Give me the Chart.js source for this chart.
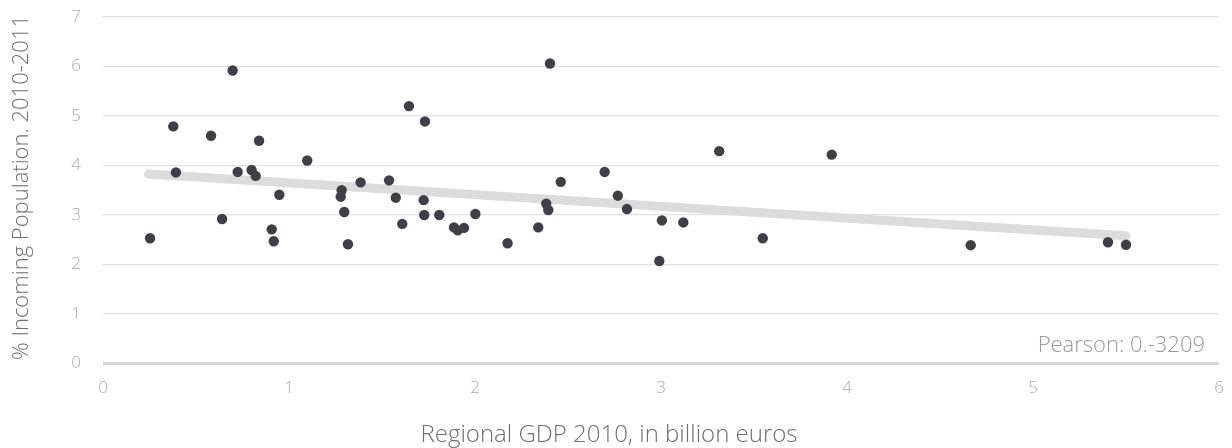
<!DOCTYPE html>
<html>
<head>
<meta charset="utf-8">
<script src="https://cdn.jsdelivr.net/npm/chart.js@4/dist/chart.umd.min.js"></script>
<style>
  html, body { margin: 0; padding: 0; background: #ffffff; }
  #wrap { width: 1232px; height: 448px; position: relative; }
</style>
</head>
<body>
<div id="wrap"><canvas id="c" width="1232" height="448"></canvas></div>
<script>
// Regional GDP 2010 (billion euros)
const gdp = [0.253, 0.378, 0.392, 0.581, 0.640, 0.697, 0.724, 0.799, 0.821, 0.839,
             0.907, 0.918, 0.948, 1.098, 1.283, 1.278, 1.297, 1.317, 1.385, 1.538,
             1.574, 1.609, 1.645, 1.724, 1.727, 1.731, 1.808, 1.887, 1.907, 1.941,
             2.002, 2.175, 2.340, 2.383, 2.394, 2.403, 2.461, 2.697, 2.768, 2.817,
             2.991, 3.005, 3.120, 3.313, 3.547, 3.918, 4.665, 5.403, 5.500];
// % incoming population 2010-2011
const incoming = [2.53, 4.79, 3.86, 4.60, 2.92, 5.92, 3.87, 3.91, 3.79, 4.50,
                  2.71, 2.47, 3.41, 4.10, 3.50, 3.37, 3.06, 2.41, 3.66, 3.70,
                  3.35, 2.82, 5.20, 3.30, 3.00, 4.89, 3.00, 2.75, 2.69, 2.74,
                  3.02, 2.43, 2.75, 3.23, 3.10, 6.06, 3.67, 3.87, 3.39, 3.12,
                  2.07, 2.89, 2.85, 4.29, 2.53, 4.22, 2.39, 2.45, 2.40];
// trend line end points
const trendX = [0.245, 5.50];
const trendY = [3.83, 2.58];
const xTicks = [0, 1, 2, 3, 4, 5, 6];
const yTicks = [0, 1, 2, 3, 4, 5, 6, 7];
const xTitle = 'Regional GDP 2010, in billion euros';
const yTitle = '% Incoming Population. 2010-2011';
const pearsonLabel = 'Pearson: 0.-3209';

const FONT = '"Open Sans", Lato, sans-serif';

const textPlugin = {
  id: 'texts',
  afterDatasetsDraw(chart) {
    const { ctx, chartArea } = chart;
    ctx.save();
    // Pearson annotation
    ctx.font = '300 22px ' + FONT;
    ctx.fillStyle = '#9a9a9a';
    ctx.textAlign = 'right';
    ctx.textBaseline = 'alphabetic';
    ctx.fillText(pearsonLabel, chartArea.right - 14, chartArea.bottom - 12);
    // x axis title
    ctx.font = '300 24px ' + FONT;
    ctx.fillStyle = '#6f6f6f';
    ctx.textAlign = 'center';
    ctx.fillText(xTitle, 609, 442);
    // y axis title
    ctx.translate(28, 15);
    ctx.rotate(-Math.PI / 2);
    ctx.textAlign = 'right';
    ctx.font = '300 22px ' + FONT;
    ctx.fillText(yTitle, 0, 0);
    ctx.restore();
  }
};

new Chart(document.getElementById('c'), {
  type: 'scatter',
  data: {
    datasets: [
      {
        label: 'points',
        data: gdp.map((x, i) => ({ x: x, y: incoming[i] })),
        backgroundColor: '#3e4048',
        borderColor: '#3e4048',
        borderWidth: 0,
        pointRadius: 5.2,
        pointHoverRadius: 5.2,
        order: 1
      },
      {
        type: 'line',
        label: 'trend',
        data: trendX.map((x, i) => ({ x: x, y: trendY[i] })),
        borderColor: '#dcdcdd',
        borderWidth: 9,
        borderCapStyle: 'round',
        pointRadius: 0,
        fill: false,
        order: 2
      }
    ]
  },
  options: {
    responsive: false,
    animation: false,
    devicePixelRatio: 1,
    layout: { padding: { top: 17, right: 13, left: 0, bottom: 0 } },
    plugins: {
      legend: { display: false },
      tooltip: { enabled: false }
    },
    scales: {
      x: {
        type: 'linear',
        min: 0,
        max: 6,
        afterBuildTicks: (s) => { s.ticks = xTicks.map(v => ({ value: v })); },
        afterFit: (s) => { s.height = 84.5; s.paddingLeft = 0; s.paddingRight = 0; },
        grid: { display: false, drawTicks: false },
        border: { display: false },
        ticks: { color: '#ababab', font: { family: FONT, size: 17, weight: '300' }, padding: 14 },
        title: { display: false }
      },
      y: {
        type: 'linear',
        min: 0,
        max: 7,
        afterBuildTicks: (s) => { s.ticks = yTicks.map(v => ({ value: v })); },
        afterFit: (s) => { s.width = 103; s.paddingTop = 0; s.paddingBottom = 0; },
        grid: {
          drawTicks: false,
          color: (c) => c.tick && c.tick.value === 0 ? '#d6d6d6' : '#e2e2e2',
          lineWidth: (c) => c.tick && c.tick.value === 0 ? 3 : 1.3
        },
        border: { display: false },
        ticks: { color: '#ababab', font: { family: FONT, size: 17, weight: '300' }, padding: 22 },
        title: { display: false }
      }
    }
  },
  plugins: [textPlugin]
});
</script>
</body>
</html>
